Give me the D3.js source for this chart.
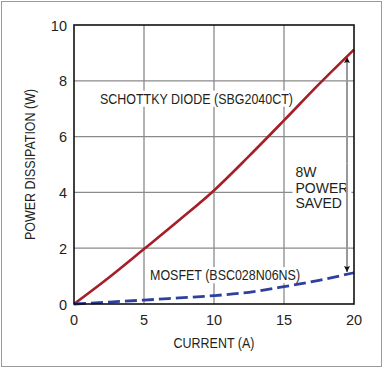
<!DOCTYPE html>
<html>
<head>
<meta charset="utf-8">
<script src="https://cdn.jsdelivr.net/npm/d3@7"></script>
<style>
  body { margin: 0; background: #fff; }
  text { font-family: "Liberation Sans", Arial, sans-serif; fill: #231f20; }
</style>
</head>
<body>
<div id="chart"></div>
<script>
// data
let currents = [0, 2.5, 5, 7.5, 10, 12.5, 15, 17.5, 20];
let schottky = [0, 0.95, 1.97, 3.0, 4.07, 5.3, 6.58, 7.88, 9.12];
let mosfet   = [0, 0.07, 0.14, 0.22, 0.3, 0.42, 0.62, 0.85, 1.12];
let xTicks = [0, 5, 10, 15, 20];
let yTicks = [0, 2, 4, 6, 8, 10];

let width = 384, height = 371;
let margin = { left: 74, right: 30, top: 25, bottom: 67 };
let narrow = 0.86; // the source font is a condensed sans

let svg = d3.select("#chart").append("svg")
  .attr("width", width)
  .attr("height", height);

// outer frame
svg.append("rect")
  .attr("x", 1.5).attr("y", 1.5)
  .attr("width", 380).attr("height", 365)
  .attr("fill", "white")
  .attr("stroke", "#9a9a9a");

let x = d3.scaleLinear().domain([0, 20]).range([margin.left, width - margin.right]);
let y = d3.scaleLinear().domain([0, 10]).range([height - margin.bottom, margin.top]);

// grid
let grid = svg.append("g");
grid.selectAll("line.vx")
  .data(xTicks.slice(1, -1))
  .enter().append("line")
  .attr("x1", d => x(d)).attr("x2", d => x(d))
  .attr("y1", y(0)).attr("y2", y(10))
  .attr("stroke", "#8a8a8a").attr("stroke-width", 1.3);
grid.selectAll("line.hy")
  .data(yTicks.slice(1, -1))
  .enter().append("line")
  .attr("x1", x(0)).attr("x2", x(20))
  .attr("y1", d => y(d)).attr("y2", d => y(d))
  .attr("stroke", "#8a8a8a").attr("stroke-width", 1.3);

// text (optionally condensed) with a white box behind it
function boxedText(lines, tx, ty, lh, size, sx) {
  let g = svg.append("g")
    .attr("transform", `translate(${tx},${ty}) scale(${sx},1)`);
  let t = g.append("text")
    .style("font-size", size + "px");
  lines.forEach((s, i) => {
    t.append("tspan").attr("x", 0).attr("dy", i == 0 ? 0 : lh).text(s);
  });
  let b = t.node().getBBox();
  g.insert("rect", "text")
    .attr("x", b.x - 3).attr("y", b.y)
    .attr("width", b.width + 6).attr("height", b.height)
    .attr("fill", "white");
  return g;
}

boxedText(["SCHOTTKY DIODE (SBG2040CT)"], 100, 103.5, 0, 14.5, narrow);
boxedText(["MOSFET (BSC028N06NS)"], 150, 280, 0, 14.5, narrow);
boxedText(["8W", "POWER", "SAVED"], 295.5, 177, 15.5, 14, 1);

// power saved arrow
let ax = x(19.5);
svg.append("defs").append("marker")
  .attr("id", "head")
  .attr("viewBox", "0 0 10 10")
  .attr("refX", 10).attr("refY", 5)
  .attr("markerWidth", 9).attr("markerHeight", 6)
  .attr("markerUnits", "userSpaceOnUse")
  .attr("orient", "auto")
  .append("path").attr("d", "M0,0L10,5L0,10L2,5Z").attr("fill", "#111");
let mid = (y(8.95) + y(1.12)) / 2;
svg.append("line")
  .attr("x1", ax).attr("x2", ax)
  .attr("y1", mid).attr("y2", y(8.85))
  .attr("stroke", "#999").attr("stroke-width", 2)
  .attr("marker-end", "url(#head)");
svg.append("line")
  .attr("x1", ax).attr("x2", ax)
  .attr("y1", mid).attr("y2", y(1.15))
  .attr("stroke", "#999").attr("stroke-width", 2)
  .attr("marker-end", "url(#head)");

// curves
let line = d3.line()
  .x((d, i) => x(currents[i]))
  .y(d => y(d))
  .curve(d3.curveMonotoneX);

svg.append("path")
  .datum(schottky)
  .attr("d", line)
  .attr("fill", "none")
  .attr("stroke", "#a51e28")
  .attr("stroke-width", 2.6);

svg.append("path")
  .datum(mosfet)
  .attr("d", line)
  .attr("fill", "none")
  .attr("stroke", "#2f3f9e")
  .attr("stroke-width", 2.8)
  .attr("stroke-dasharray", "12,5");

// frame of plot
svg.append("rect")
  .attr("x", x(0)).attr("y", y(10))
  .attr("width", x(20) - x(0)).attr("height", y(0) - y(10))
  .attr("fill", "none")
  .attr("stroke", "#111").attr("stroke-width", 1.6);

// tick labels
svg.selectAll("text.xt")
  .data(xTicks)
  .enter().append("text")
  .attr("x", d => x(d)).attr("y", y(0) + 21)
  .attr("text-anchor", "middle")
  .style("font-size", "14.5px")
  .text(d => d);

svg.selectAll("text.yt")
  .data(yTicks)
  .enter().append("text")
  .attr("x", x(0) - 7).attr("y", d => y(d) + 5.5)
  .attr("text-anchor", "end")
  .style("font-size", "14.5px")
  .text(d => d);

// axis titles
svg.append("text")
  .attr("transform", `translate(${(x(0) + x(20)) / 2},348) scale(${narrow},1)`)
  .attr("text-anchor", "middle")
  .style("font-size", "14.5px")
  .text("CURRENT (A)");

svg.append("text")
  .attr("transform", `translate(35,${(y(0) + y(10)) / 2}) rotate(-90) scale(${narrow},1)`)
  .attr("text-anchor", "middle")
  .style("font-size", "14.5px")
  .text("POWER DISSIPATION (W)");
</script>
</body>
</html>
